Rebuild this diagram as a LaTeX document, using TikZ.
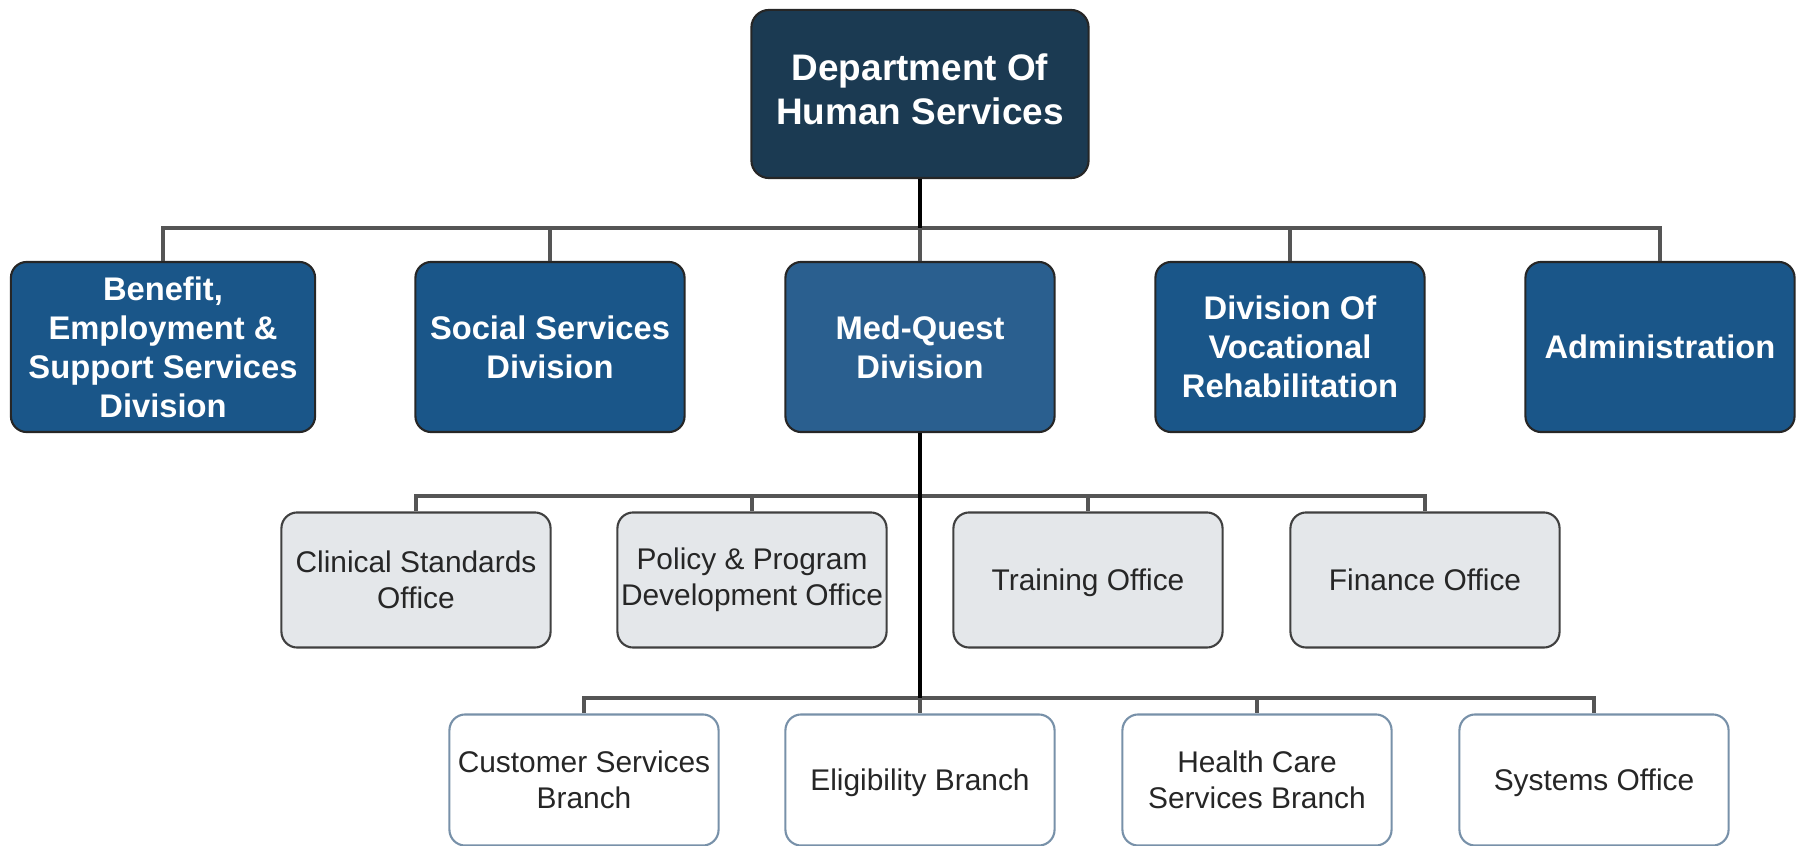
\documentclass[tikz,border=0pt]{standalone}
\usepackage{fontspec}
\setmainfont{Liberation Sans}
\usetikzlibrary{positioning}

\definecolor{deptblue}{HTML}{1B3A52}
\definecolor{divblue}{HTML}{1A5689}
\definecolor{medblue}{HTML}{2A5F8F}
\definecolor{officegray}{HTML}{E4E7EA}
\definecolor{branchedge}{HTML}{7891A9}
\definecolor{busgray}{HTML}{555555}

\tikzset{
  dept/.style={draw=black!85, fill=deptblue, text=white, line width=0.6pt,
    rounded corners=5pt, align=center, minimum width=3.37cm, minimum height=1.68cm,
    text depth=2.9pt, font=\fontsize{10.5}{12.4}\selectfont\bfseries},
  division/.style={draw=black!85, fill=divblue, text=white, line width=0.6pt,
    rounded corners=4.5pt, align=center, inner sep=1pt, minimum width=2.69cm, minimum height=1.70cm,
    font=\fontsize{9.3}{11.1}\selectfont\bfseries},
  office/.style={draw=black!75, fill=officegray, text=black!85, line width=0.6pt,
    rounded corners=4.5pt, align=center, inner sep=1pt, minimum width=2.69cm, minimum height=1.35cm,
    font=\fontsize{8.5}{10.3}\selectfont},
  branch/.style={office, draw=branchedge, fill=white, minimum height=1.31cm},
  oneline/.style={text depth=0pt},
  busline/.style={draw=busgray, line width=0.9pt},
  trunk/.style={draw=black, line width=1.1pt}
}

\begin{document}
\begin{tikzpicture}[x=0.01cm, y=-0.01cm]
  \useasboundingbox (0,0) rectangle (1796,846);

  \node[dept] (dhs) at (920,94) {Department Of\\Human Services};

  \node[division, minimum width=3.04cm] (benefit) at (163,347) {Benefit,\\Employment \&\\Support Services\\Division};
  \node[division] (social) at (550,347) {Social Services\\Division};
  \node[division, fill=medblue] (medquest) at (920,347) {Med-Quest\\Division};
  \node[division] (vocational) at (1290,347) {Division Of\\Vocational\\Rehabilitation};
  \node[division] (admin) at (1660,347) {Administration};

  \node[office] (clinical) at (416,580) {Clinical Standards\\Office};
  \node[office] (policy) at (752,580) {Policy \& Program\\Development Office};
  \node[office, oneline] (training) at (1088,580) {Training Office};
  \node[office, oneline] (finance) at (1425,580) {Finance Office};

  \node[branch] (customer) at (584,780) {Customer Services\\Branch};
  \node[branch, oneline] (eligibility) at (920,780) {Eligibility Branch};
  \node[branch] (health) at (1257,780) {Health Care\\Services Branch};
  \node[branch, oneline] (systems) at (1594,780) {Systems Office};

  \coordinate (divbus) at (920,228);
  \coordinate (offbus) at (920,496);
  \coordinate (brbus) at (920,698);

  \foreach \n in {benefit,social,medquest,vocational,admin}
    \draw[busline] (divbus) -| (\n);
  \foreach \n in {clinical,policy,training,finance}
    \draw[busline] (offbus) -| (\n);
  \foreach \n in {customer,eligibility,health,systems}
    \draw[busline] (brbus) -| (\n);

  \draw[trunk] (dhs) -- (divbus);
  \draw[trunk] (medquest) -- (brbus);
\end{tikzpicture}
\end{document}
